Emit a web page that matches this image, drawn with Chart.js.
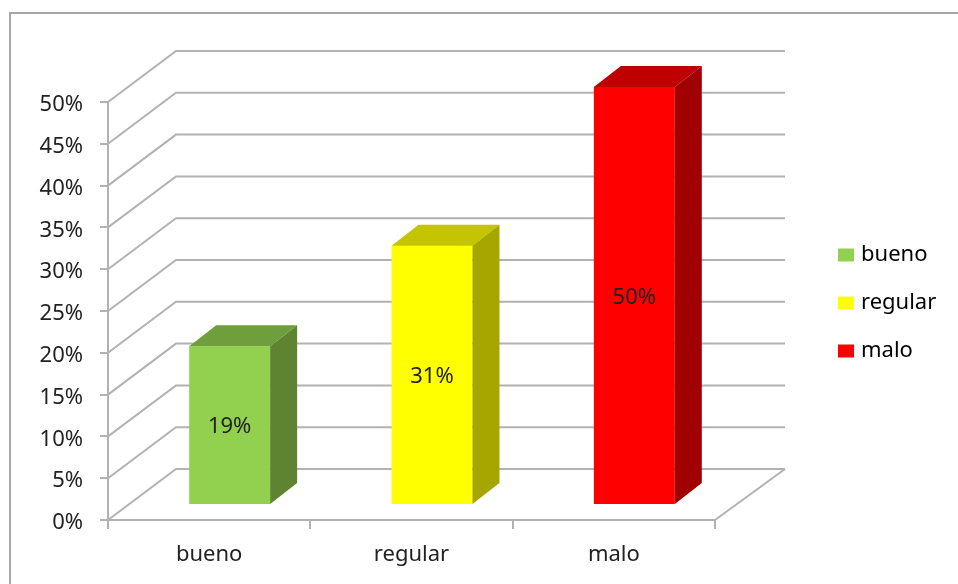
<!DOCTYPE html>
<html>
<head>
<meta charset="utf-8">
<style>
    html, body { margin: 0; padding: 0; background: #fff; }
    canvas { display: block; }
</style>
<script src="https://cdn.jsdelivr.net/npm/chart.js@4"></script>
</head>
<body>
<canvas id="chart" width="958" height="584"></canvas>
<script>
// chart data
const categories = ['bueno', 'regular', 'malo'];
const percentages = [19, 31, 50];

// colours per bar
const frontColors = ['#92d050', '#ffff00', '#ff0000'];
const topColors = ['#6f9e3d', '#c4c400', '#bf0000'];
const sideColors = ['#5e8432', '#a6a600', '#a00000'];

const FONT = { family: '"Noto Sans"', size: 22 };
const TEXT = '#222222';
const GRID = '#b2b2b2';

// wall depth and bar depth of the fake 3D box
const WALL_X = 68, WALL_Y = -51;
const SHIFT_X = 20.5, SHIFT_Y = -15;
const BAR_X = 27, BAR_Y = -21;

function line(ctx, pts) {
    ctx.beginPath();
    pts.forEach((p, i) => i ? ctx.lineTo(p[0], p[1]) : ctx.moveTo(p[0], p[1]));
    ctx.stroke();
}

function face(ctx, pts, color) {
    ctx.beginPath();
    pts.forEach((p, i) => i ? ctx.lineTo(p[0], p[1]) : ctx.moveTo(p[0], p[1]));
    ctx.closePath();
    ctx.fillStyle = color;
    ctx.fill();
}

const box3d = {
    id: 'box3d',
    beforeInit(chart) {
        // reserve the right hand column for the legend
        const fit = chart.legend.fit;
        chart.legend.fit = function () {
            fit.call(this);
            this.width = 243;
        };
    },
    afterLayout(chart) {
        chart.legend.left = 816;
        chart.legend.top = 218;

        // y labels sit a little below their tick in the reference
        const y = chart.scales.y;
        const drawLabels = y.drawLabels;
        y.drawLabels = function (area) {
            chart.ctx.save();
            chart.ctx.translate(0, 3);
            drawLabels.call(this, area);
            chart.ctx.restore();
        };
    },
    beforeDraw(chart) {
        // outer frame
        const ctx = chart.ctx;
        ctx.save();
        ctx.strokeStyle = '#a6a6a6';
        ctx.lineWidth = 2;
        line(ctx, [[10, 584], [10, 13], [958, 13]]);
        ctx.restore();
    },
    beforeDatasetsDraw(chart) {
        // side wall, back wall and floor
        const { ctx, scales: { x, y } } = chart;
        const left = x.left, right = x.right;
        ctx.save();
        ctx.strokeStyle = GRID;
        ctx.lineWidth = 2;
        y.ticks.forEach(t => {
            const py = y.getPixelForValue(t.value);
            line(ctx, [[left, py], [left + WALL_X, py + WALL_Y], [right + WALL_X + 2, py + WALL_Y]]);
        });
        const py0 = y.getPixelForValue(0);
        line(ctx, [[right + WALL_X + 2, py0 + WALL_Y], [right, py0]]);
        ctx.restore();
    },
    beforeDatasetDraw(chart) {
        const ctx = chart.ctx;
        ctx.save();
        ctx.translate(SHIFT_X, SHIFT_Y);
    },
    afterDatasetDraw(chart, args) {
        const ctx = chart.ctx;
        args.meta.data.forEach((bar, i) => {
            const p = bar.getProps(['x', 'y', 'base', 'width'], true);
            const l = p.x - p.width / 2, r = p.x + p.width / 2;
            face(ctx, [[l, p.y], [r, p.y], [r + BAR_X, p.y + BAR_Y], [l + BAR_X, p.y + BAR_Y]], topColors[i]);
            face(ctx, [[r, p.y], [r, p.base], [r + BAR_X, p.base + BAR_Y], [r + BAR_X, p.y + BAR_Y]], sideColors[i]);
            ctx.fillStyle = TEXT;
            ctx.font = FONT.size + 'px ' + FONT.family;
            ctx.textAlign = 'center';
            ctx.textBaseline = 'middle';
            ctx.fillText(percentages[i] + '%', p.x, (p.y + p.base) / 2 + 2);
        });
        ctx.restore();
    }
};

new Chart(document.getElementById('chart'), {
    type: 'bar',
    data: {
        labels: categories,
        datasets: [{
            data: percentages,
            backgroundColor: frontColors,
            barPercentage: 0.4,
            categoryPercentage: 1,
            clip: false
        }]
    },
    options: {
        responsive: false,
        animation: false,
        layout: { padding: { top: 102 } },
        scales: {
            x: {
                afterFit(scale) { scale.height = 64; },
                border: { color: GRID, width: 2 },
                grid: { drawOnChartArea: false, color: GRID, lineWidth: 2, tickLength: 9 },
                ticks: { color: TEXT, font: FONT, padding: 13, maxRotation: 0 }
            },
            y: {
                min: 0,
                max: 50,
                afterFit(scale) { scale.width = 108; },
                border: { color: GRID, width: 2 },
                grid: { drawOnChartArea: false, color: GRID, lineWidth: 2, tickLength: 8 },
                ticks: { stepSize: 5, color: TEXT, font: FONT, padding: 17, callback: v => v + '%' }
            }
        },
        plugins: {
            tooltip: { enabled: false },
            legend: {
                position: 'right',
                align: 'start',
                labels: {
                    color: TEXT,
                    font: FONT,
                    boxWidth: 8,
                    boxHeight: 5,
                    padding: 26,
                    generateLabels: () => categories.map((c, i) => ({
                        text: c,
                        fillStyle: frontColors[i],
                        strokeStyle: frontColors[i],
                        lineWidth: 8,
                        index: i
                    }))
                }
            }
        }
    },
    plugins: [box3d]
});
</script>
</body>
</html>
